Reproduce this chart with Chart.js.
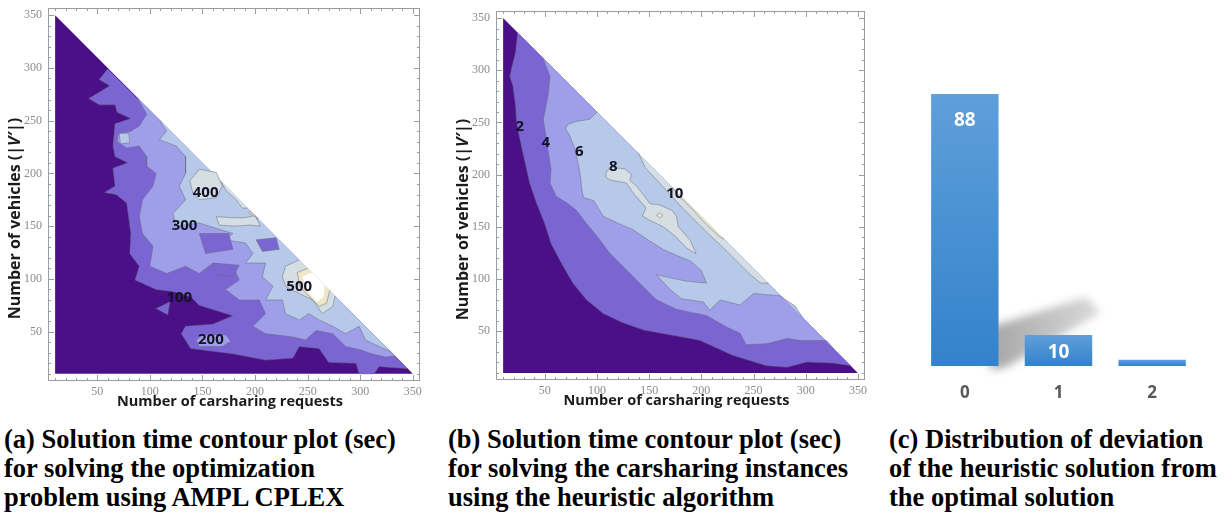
<!DOCTYPE html>
<html>
<head>
<meta charset="utf-8">
<script src="https://cdn.jsdelivr.net/npm/chart.js@4.4.1/dist/chart.umd.min.js"></script>
<style>
  body { margin: 0; background: #fff; }
  #fig { position: relative; width: 1229px; height: 516px; overflow: hidden; background: #fff; }
  #fig canvas { position: absolute; top: 0; }
  .cap { position: absolute; top: 425px; font: bold 26.5px/29px "Liberation Serif", "Times New Roman", serif; color: #000; white-space: nowrap; }
</style>
</head>
<body>
<div id="fig">
  <canvas id="plotA" width="435" height="415" style="left:0"></canvas>
  <canvas id="plotB" width="440" height="415" style="left:440px"></canvas>
  <canvas id="plotC" width="349" height="415" style="left:880px"></canvas>
  <div class="cap" style="left:4px">(a) Solution time contour plot (sec)<br>for solving the optimization<br>problem using AMPL CPLEX</div>
  <div class="cap" style="left:448px">(b) Solution time contour plot (sec)<br>for solving the carsharing instances<br>using the heuristic algorithm</div>
  <div class="cap" style="left:889px">(c) Distribution of deviation<br>of the heuristic solution from<br>the optimal solution</div>
</div>
<script>
// axis ticks shared by both contour plots
const frameTicks = [50, 100, 150, 200, 250, 300, 350];
// instance domain: requests x vehicles, lower-left triangle
const domain = [[10, 10], [10, 350], [350, 10]];

// (a) AMPL CPLEX solution time, contour boundaries (x = requests, y = vehicles)
const a100 = [[60, 299], [52, 289], [62, 283], [52, 277], [42, 271], [52, 265], [67, 265], [69, 258], [82, 252], [67, 247],
  [65, 226], [67, 216], [79, 210], [65, 205], [67, 188], [57, 182], [68, 180], [78, 172], [82, 143], [81, 124], [90, 112],
  [86, 99], [106, 90], [122, 88], [139, 83], [147, 75], [179, 65], [160, 57], [134, 55], [130, 48], [139, 34], [179, 29],
  [210, 23], [236, 25], [242, 36], [261, 34], [270, 21], [296, 20], [299, 10], [313, 10], [318, 17], [330, 16], [345, 15]];
const a100isle = [[106, 72], [119, 78], [117, 66]];
const a200 = [[88, 272], [97, 256], [90, 245], [82, 240], [70, 237], [69, 230], [78, 224], [90, 226], [97, 216], [97, 207],
  [106, 200], [103, 188], [93, 175], [90, 159], [93, 143], [103, 131], [100, 112], [116, 105], [134, 112], [147, 105],
  [160, 115], [179, 112], [185, 99], [172, 90], [185, 80], [204, 80], [210, 67], [198, 55], [210, 48], [236, 45], [248, 42],
  [258, 51], [274, 48], [286, 36], [299, 33], [311, 29], [324, 26], [333, 27]];
const a200isle = [[144, 42], [150, 47], [172, 47], [177, 41], [169, 36], [147, 36]];
const a300 = [[109, 251], [116, 240], [109, 232], [125, 226], [134, 216], [134, 200], [128, 188], [134, 175], [122, 162],
  [125, 150], [147, 153], [163, 148], [179, 143], [172, 137], [191, 134], [198, 124], [191, 115], [210, 115], [207, 102],
  [217, 93], [210, 80], [226, 80], [229, 67], [242, 61], [251, 67], [261, 61], [274, 55], [286, 48], [299, 55], [305, 42],
  [318, 36], [329, 31]];
const a300isle = [[71, 238], [80, 238], [81, 229], [72, 228]];
const aLowIsles = [
  [[147, 143], [175, 143], [179, 128], [153, 124]],
  [[160, 115], [185, 113], [179, 102], [163, 104]],
  [[201, 137], [220, 139], [223, 128], [207, 126]]
];
const a400isles = [
  [[138, 193], [147, 204], [163, 201], [169, 188], [163, 177], [147, 175], [141, 181]],
  [[163, 159], [178, 158], [190, 158], [200, 160], [205, 150], [196, 151], [180, 150], [166, 151]]
];
const a400edge = [[168, 192], [172, 184], [182, 175], [188, 167], [193, 167]];
const a400peak = [[242, 118], [229, 112], [226, 102], [229, 93], [242, 86], [255, 80], [264, 67], [274, 74], [276, 84]];
const a500isle = [[194, 163], [201, 158], [203, 157], [196, 164]];
const a500peak = [[250, 110], [240, 106], [243, 92], [252, 83], [261, 74], [268, 77], [271, 89]];
const a500core = [[254, 106], [245, 102], [250, 88], [259, 78], [265, 83], [266, 94]];
const aLabelText = ['100', '200', '300', '400', '500'];
const aLabelX = [128, 158, 133, 153, 242];
const aLabelY = [82, 42, 150, 182, 93];

// (b) heuristic solution time
const b2 = [[24, 336], [22, 317], [18, 301], [16.5, 294], [19.5, 285], [22, 266], [23, 250], [27, 230], [29, 221], [35.5, 192],
  [42, 173], [50, 153], [56, 134], [66, 115], [77, 96], [90, 80], [106, 67], [125, 58], [145, 51], [167, 47], [190, 43],
  [199, 41], [230, 27], [262, 17], [282, 15.5], [301, 20.5], [326, 19.5], [343, 17]];
const b4 = [[48, 312], [55, 294], [53, 275], [48.5, 253], [51.5, 234], [56, 205], [55, 192], [61, 179], [71, 173], [80, 166],
  [90, 153], [100, 141], [112, 125], [128, 109], [141, 96], [157, 80], [176, 71], [190, 68], [205, 65], [224, 54], [237, 48],
  [243, 37], [263, 38], [282, 43], [295, 41], [320, 41], [327, 33]];
const b6 = [[100, 260], [93, 253], [80, 251], [72, 248], [70, 244], [74, 237], [79, 224], [82, 211], [84, 199], [85.5, 186],
  [87, 178], [97, 175], [100, 170], [106, 160], [119, 154], [135, 147], [148, 138], [164, 128], [180, 121], [190, 117],
  [200, 108], [205, 96], [185, 98], [157, 104], [170, 90], [181, 81], [202, 78], [208, 70], [218, 80], [237, 75], [250, 86],
  [275, 84], [290, 74], [297, 63]];
const b8isle = [[109, 203], [114, 207], [127, 205.5], [133, 200], [131.5, 194.5], [138, 189], [151, 172], [160, 171],
  [171.5, 166], [176, 160.5], [178, 150], [189, 137.5], [195, 124], [186, 129.5], [175, 141], [163.5, 150], [149, 157],
  [143.5, 160.5], [147, 168], [135, 182], [128, 192], [112, 195], [108.5, 198]];
const b8edge = [[140, 220], [146, 207], [158, 194], [170, 181], [181, 169], [194, 156], [208, 142], [221, 130], [234, 117],
  [247, 104], [257, 96], [264, 96]];
const b10edge = [[172, 188], [178, 180], [192, 166], [205, 152], [218, 140], [222, 138]];
const b10isle = [[157, 161], [160, 163.5], [163, 161], [160, 158.5]];
const bLabelText = ['2', '4', '6', '8', '10'];
const bLabelX = [26, 51, 83, 115.5, 174.6];
const bLabelY = [246, 230.5, 221.5, 208, 181.4];

// (c) deviation of heuristic from optimum
const devCategories = ['0', '1', '2'];
const devShare = [88, 10, 2];
const devText = ['88', '10', ''];

const SHADE = ['#4a1088', '#7b65d3', '#9e9ee9', '#b7c9e9', '#d5dee3', '#efe6c8', '#ffffff'];
const EDGE = 'rgba(105, 105, 120, 0.5)';
const TITLE_FONT = '"Open Sans"';

function band(pts, level, closed, noEdge) {
  const data = pts.map(p => ({ x: p[0], y: p[1] }));
  if (closed) data.push(data[0]);
  return {
    type: 'line', data: data, fill: 'shape', backgroundColor: SHADE[level],
    borderColor: noEdge ? 'rgba(0,0,0,0)' : EDGE, borderWidth: noEdge ? 0 : 1,
    pointRadius: 0, tension: 0
  };
}

function frameAxis(fit, pad) {
  return {
    type: 'linear', min: 3.2, max: 356.8,
    grid: { display: false, drawTicks: false },
    border: { display: false },
    ticks: { color: '#8c8c8c', font: { family: 'Liberation Serif', size: 12 }, padding: pad, maxRotation: 0, autoSkip: false },
    afterBuildTicks: s => { s.ticks = frameTicks.map(v => ({ value: v })); },
    afterFit: s => {
      fit(s);
      s.paddingTop = s.paddingBottom = s.paddingLeft = s.paddingRight = 0;
    }
  };
}

function drawRich(ctx, parts) {
  let total = 0;
  parts.forEach(p => { ctx.font = p[1]; total += ctx.measureText(p[0]).width; });
  let x = -total / 2;
  parts.forEach(p => {
    ctx.font = p[1];
    ctx.fillText(p[0], x, 0);
    x += ctx.measureText(p[0]).width;
  });
}

function contourDecor(text, lx, ly) {
  return {
    id: 'contourDecor',
    afterDatasetsDraw(chart) {
      const { ctx, chartArea: a, scales: { x, y } } = chart;
      ctx.save();
      ctx.font = 'bold 15px "Open Sans"';
      ctx.fillStyle = '#121226';
      ctx.textAlign = 'center';
      ctx.textBaseline = 'middle';
      text.forEach((t, i) => ctx.fillText(t, x.getPixelForValue(lx[i]), y.getPixelForValue(ly[i])));

      // Mathematica style frame, ticks pointing inward on all sides
      ctx.strokeStyle = '#9c9c9c';
      ctx.lineWidth = 1;
      ctx.strokeRect(a.left + 0.5, a.top + 0.5, a.width - 1, a.height - 1);
      ctx.beginPath();
      for (let v = 10; v <= 350; v += 10) {
        const len = v % 50 ? 3 : 6;
        const px = Math.round(x.getPixelForValue(v)) + 0.5;
        const py = Math.round(y.getPixelForValue(v)) + 0.5;
        ctx.moveTo(px, a.bottom); ctx.lineTo(px, a.bottom - len);
        ctx.moveTo(px, a.top); ctx.lineTo(px, a.top + len);
        ctx.moveTo(a.left, py); ctx.lineTo(a.left + len, py);
        ctx.moveTo(a.right, py); ctx.lineTo(a.right - len, py);
      }
      ctx.stroke();

      ctx.fillStyle = '#1b1b1b';
      ctx.font = 'bold 14.5px ' + TITLE_FONT;
      ctx.textBaseline = 'alphabetic';
      ctx.fillText('Number of carsharing requests', (a.left + a.right) / 2 - 4, a.bottom + 25);

      ctx.translate(a.left - 33, (a.top + a.bottom) / 2 + 24);
      ctx.rotate(-Math.PI / 2);
      ctx.textAlign = 'left';
      ctx.textBaseline = 'middle';
      drawRich(ctx, [
        ['Number of vehicles (|', 'bold 16px ' + TITLE_FONT],
        ['V\u2032', 'italic bold 16px ' + TITLE_FONT],
        ['|)', 'bold 16px ' + TITLE_FONT]
      ]);
      ctx.restore();
    }
  };
}

function contourChart(id, sets, decor, geom) {
  sets.forEach((d, i) => { d.order = sets.length - i; });
  return new Chart(document.getElementById(id), {
    type: 'line',
    data: { datasets: sets },
    options: {
      responsive: false, animation: false, devicePixelRatio: 1, events: [],
      layout: { padding: { left: 0, top: geom.top, right: geom.right, bottom: 0 } },
      plugins: { legend: { display: false }, tooltip: { enabled: false } },
      scales: {
        x: frameAxis(s => { s.height = geom.xh; }, 4),
        y: frameAxis(s => { s.width = geom.yw; }, 6)
      }
    },
    plugins: [decor]
  });
}

const setsA = [band(domain, 0, false, true), band(a100, 1), band(a100isle, 1, true), band(a200, 2), band(a200isle, 2, true),
  band(a300, 3), band(a300isle, 3, true)];
aLowIsles.forEach(p => setsA.push(band(p, 1, true)));
a400isles.forEach(p => setsA.push(band(p, 4, true)));
setsA.push(band(a400edge, 4), band(a400peak, 4), band(a500isle, 5, true), band(a500peak, 5), band(a500core, 6, false, true));
contourChart('plotA', setsA, contourDecor(aLabelText, aLabelX, aLabelY), { top: 8, right: 15, xh: 34, yw: 48 });

const setsB = [band(domain, 0, false, true), band(b2, 1), band(b4, 2), band(b6, 3), band(b8isle, 4, true), band(b8edge, 4),
  band(b10edge, 5), band(b10isle, 5, true)];
contourChart('plotB', setsB, contourDecor(bLabelText, bLabelX, bLabelY), { top: 11, right: 15, xh: 35, yw: 56 });

// (c) bar chart with the soft diagonal shadow and inside-end labels
const barShadow = {
  id: 'barShadow',
  beforeDatasetsDraw(chart) {
    const bar = chart.getDatasetMeta(0).data[1];
    if (!bar) return;
    const p = bar.getProps(['x', 'y', 'base', 'width'], true);
    const L = p.x - p.width / 2, R = p.x + p.width / 2;
    const ctx = chart.ctx;
    ctx.save();
    ctx.filter = 'blur(4px)';
    const g = ctx.createLinearGradient(L - 30, 0, R + 10, 0);
    g.addColorStop(0, 'rgba(0, 0, 0, 0.34)');
    g.addColorStop(1, 'rgba(0, 0, 0, 0.14)');
    ctx.fillStyle = g;
    ctx.beginPath();
    ctx.moveTo(L - 35, p.base + 3);
    ctx.lineTo(L - 35, p.y - 8);
    ctx.lineTo(R - 6, p.y - 38);
    ctx.lineTo(R + 8, p.y - 22);
    ctx.lineTo(L - 20, p.base + 2);
    ctx.closePath();
    ctx.fill();
    ctx.restore();
  },
  afterDatasetsDraw(chart) {
    const ctx = chart.ctx;
    ctx.save();
    ctx.font = 'bold 19px "Open Sans"';
    ctx.fillStyle = '#ffffff';
    ctx.textAlign = 'center';
    ctx.textBaseline = 'middle';
    chart.getDatasetMeta(0).data.forEach((bar, i) => {
      if (!devText[i]) return;
      const p = bar.getProps(['x', 'y', 'base'], true);
      ctx.fillText(devText[i], p.x, Math.min(p.y + 27, (p.y + p.base) / 2 + 2));
    });
    ctx.restore();
  }
};

new Chart(document.getElementById('plotC'), {
  type: 'bar',
  data: {
    labels: devCategories,
    datasets: [{
      data: devShare,
      barPercentage: 0.72,
      categoryPercentage: 1,
      backgroundColor: c => {
        const chart = c.chart;
        if (!chart.chartArea || c.raw === undefined) return '#4a8fd2';
        const top = chart.scales.y.getPixelForValue(c.raw);
        const base = chart.scales.y.getPixelForValue(0);
        const g = chart.ctx.createLinearGradient(0, top, 0, base);
        g.addColorStop(0, '#5f9fda');
        g.addColorStop(1, '#3382cb');
        return g;
      }
    }]
  },
  options: {
    responsive: false, animation: false, devicePixelRatio: 1, events: [],
    layout: { padding: { left: 38, right: 30, top: 57, bottom: 0 } },
    plugins: { legend: { display: false }, tooltip: { enabled: false } },
    scales: {
      x: {
        grid: { display: false, drawTicks: false }, border: { display: false },
        ticks: { color: '#595959', font: { family: 'Open Sans', size: 17, weight: 'bold' }, padding: 17 },
        afterFit: s => { s.height = 49; }
      },
      y: { display: false, min: 0, max: 100 }
    }
  },
  plugins: [barShadow]
});
</script>
</body>
</html>
